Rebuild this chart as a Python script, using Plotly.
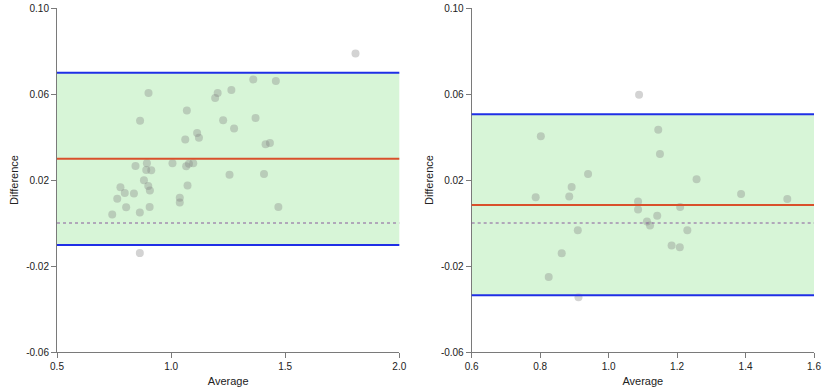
import plotly.graph_objects as go

# left panel: Bland-Altman points
left_avg = [1.808, 1.360, 1.459, 0.901, 1.204, 1.193, 1.264, 1.069, 0.864, 1.228,
            1.370, 1.276, 1.114, 1.122, 1.062, 1.414, 1.433, 0.844, 0.894, 0.891,
            0.913, 1.006, 1.066, 1.078, 1.097, 1.256, 1.407, 0.881, 0.778, 0.900,
            0.907, 0.797, 0.837, 1.072, 1.038, 1.038, 0.764, 0.803, 0.906, 0.863,
            0.742, 1.470, 0.863]
left_diff = [0.0788, 0.0668, 0.0660, 0.0605, 0.0605, 0.0581, 0.0619, 0.0523, 0.0476, 0.0478,
             0.0488, 0.0439, 0.0419, 0.0397, 0.0388, 0.0366, 0.0372, 0.0265, 0.0278, 0.0247,
             0.0245, 0.0278, 0.0264, 0.0276, 0.0278, 0.0225, 0.0228, 0.0199, 0.0166, 0.0172,
             0.0151, 0.0140, 0.0137, 0.0175, 0.0118, 0.0095, 0.0113, 0.0073, 0.0075, 0.0049,
             0.0039, 0.0075, -0.0140]
left_mean = 0.0299
left_limits = [0.0699, -0.0102]

# right panel
right_avg = [1.089, 1.145, 0.802, 1.150, 0.940, 1.257, 0.892, 1.387, 1.522, 0.787,
             0.885, 1.086, 1.086, 1.209, 1.142, 1.112, 1.121, 0.910, 1.230, 1.184,
             1.208, 0.863, 0.825, 0.912]
right_diff = [0.0597, 0.0434, 0.0403, 0.0321, 0.0228, 0.0203, 0.0167, 0.0135, 0.0112, 0.0120,
              0.0123, 0.0100, 0.0063, 0.0074, 0.0034, 0.0007, -0.0012, -0.0034, -0.0034, -0.0105,
              -0.0113, -0.0141, -0.0251, -0.0345]
right_mean = 0.0084
right_limits = [0.0506, -0.0336]

y_ticks = [-0.06, -0.02, 0.02, 0.06, 0.10]
y_labels = ["-0.06", "-0.02", "0.02", "0.06", "0.10"]
left_xticks = [0.5, 1.0, 1.5, 2.0]
right_xticks = [0.6, 0.8, 1.0, 1.2, 1.4, 1.6]

BAND = "rgba(150,230,150,0.38)"
LIMIT = "#1f2fe6"
MEAN = "#d9502b"
ZERO = "#8a5a9c"
POINT_IN = "rgba(128,128,128,0.35)"
POINT_OUT = "#d3d3d3"

fig = go.Figure()
panels = [
    ("x", "y", left_avg, left_diff, left_mean, left_limits),
    ("x2", "y2", right_avg, right_diff, right_mean, right_limits),
]
for xa, ya, avg, diff, mean, limits in panels:
    hi, lo = limits
    colors = [POINT_IN if lo <= d <= hi else POINT_OUT for d in diff]
    fig.add_trace(go.Scatter(x=avg, y=diff, mode="markers", xaxis=xa, yaxis=ya,
                             marker=dict(size=8, color=colors, line=dict(width=0)),
                             showlegend=False, hoverinfo="x+y"))
    xd = xa + " domain"
    fig.add_shape(type="rect", xref=xd, yref=ya, x0=0, x1=1, y0=lo, y1=hi,
                  fillcolor=BAND, line=dict(width=0), layer="below")
    fig.add_shape(type="line", xref=xd, yref=ya, x0=0, x1=1, y0=0, y1=0,
                  line=dict(color=ZERO, width=1, dash="dot"))
    for v in limits:
        fig.add_shape(type="line", xref=xd, yref=ya, x0=0, x1=1, y0=v, y1=v,
                      line=dict(color=LIMIT, width=2))
    fig.add_shape(type="line", xref=xd, yref=ya, x0=0, x1=1, y0=mean, y1=mean,
                  line=dict(color=MEAN, width=2))

axis_common = dict(showgrid=False, zeroline=False, showline=True, linecolor="#7a7a7a",
                   linewidth=1, ticks="outside", ticklen=5, tickcolor="#7a7a7a",
                   automargin=False,
                   tickfont=dict(family="Liberation Sans, Arial", size=10, color="#222"))
title_font = dict(family="Liberation Sans, Arial", size=11, color="#222")

fig.update_layout(
    width=830, height=390,
    margin=dict(l=56.7, r=15.7, t=7.7, b=38.3),
    paper_bgcolor="white", plot_bgcolor="white",
    xaxis=dict(domain=[0, 0.4522], range=[0.5, 2.0], anchor="y",
               tickvals=left_xticks, tickformat=".1f",
               title=dict(text="Average", font=title_font, standoff=6), **axis_common),
    yaxis=dict(domain=[0, 1], range=[-0.06, 0.10], anchor="x",
               tickvals=y_ticks, ticktext=y_labels,
               title=dict(text="Difference", font=title_font, standoff=5), **axis_common),
    xaxis2=dict(domain=[0.5478, 1.0], range=[0.6, 1.6], anchor="y2",
                tickvals=right_xticks, tickformat=".1f",
                title=dict(text="Average", font=title_font, standoff=6), **axis_common),
    yaxis2=dict(domain=[0, 1], range=[-0.06, 0.10], anchor="x2",
                tickvals=y_ticks, ticktext=y_labels,
                title=dict(text="Difference", font=title_font, standoff=5), **axis_common),
)

# the page's default 8px body margin would push the figure off the window
fig.write_html("out.html", config={"displayModeBar": False},
               post_script="document.body.style.margin = '0';")
